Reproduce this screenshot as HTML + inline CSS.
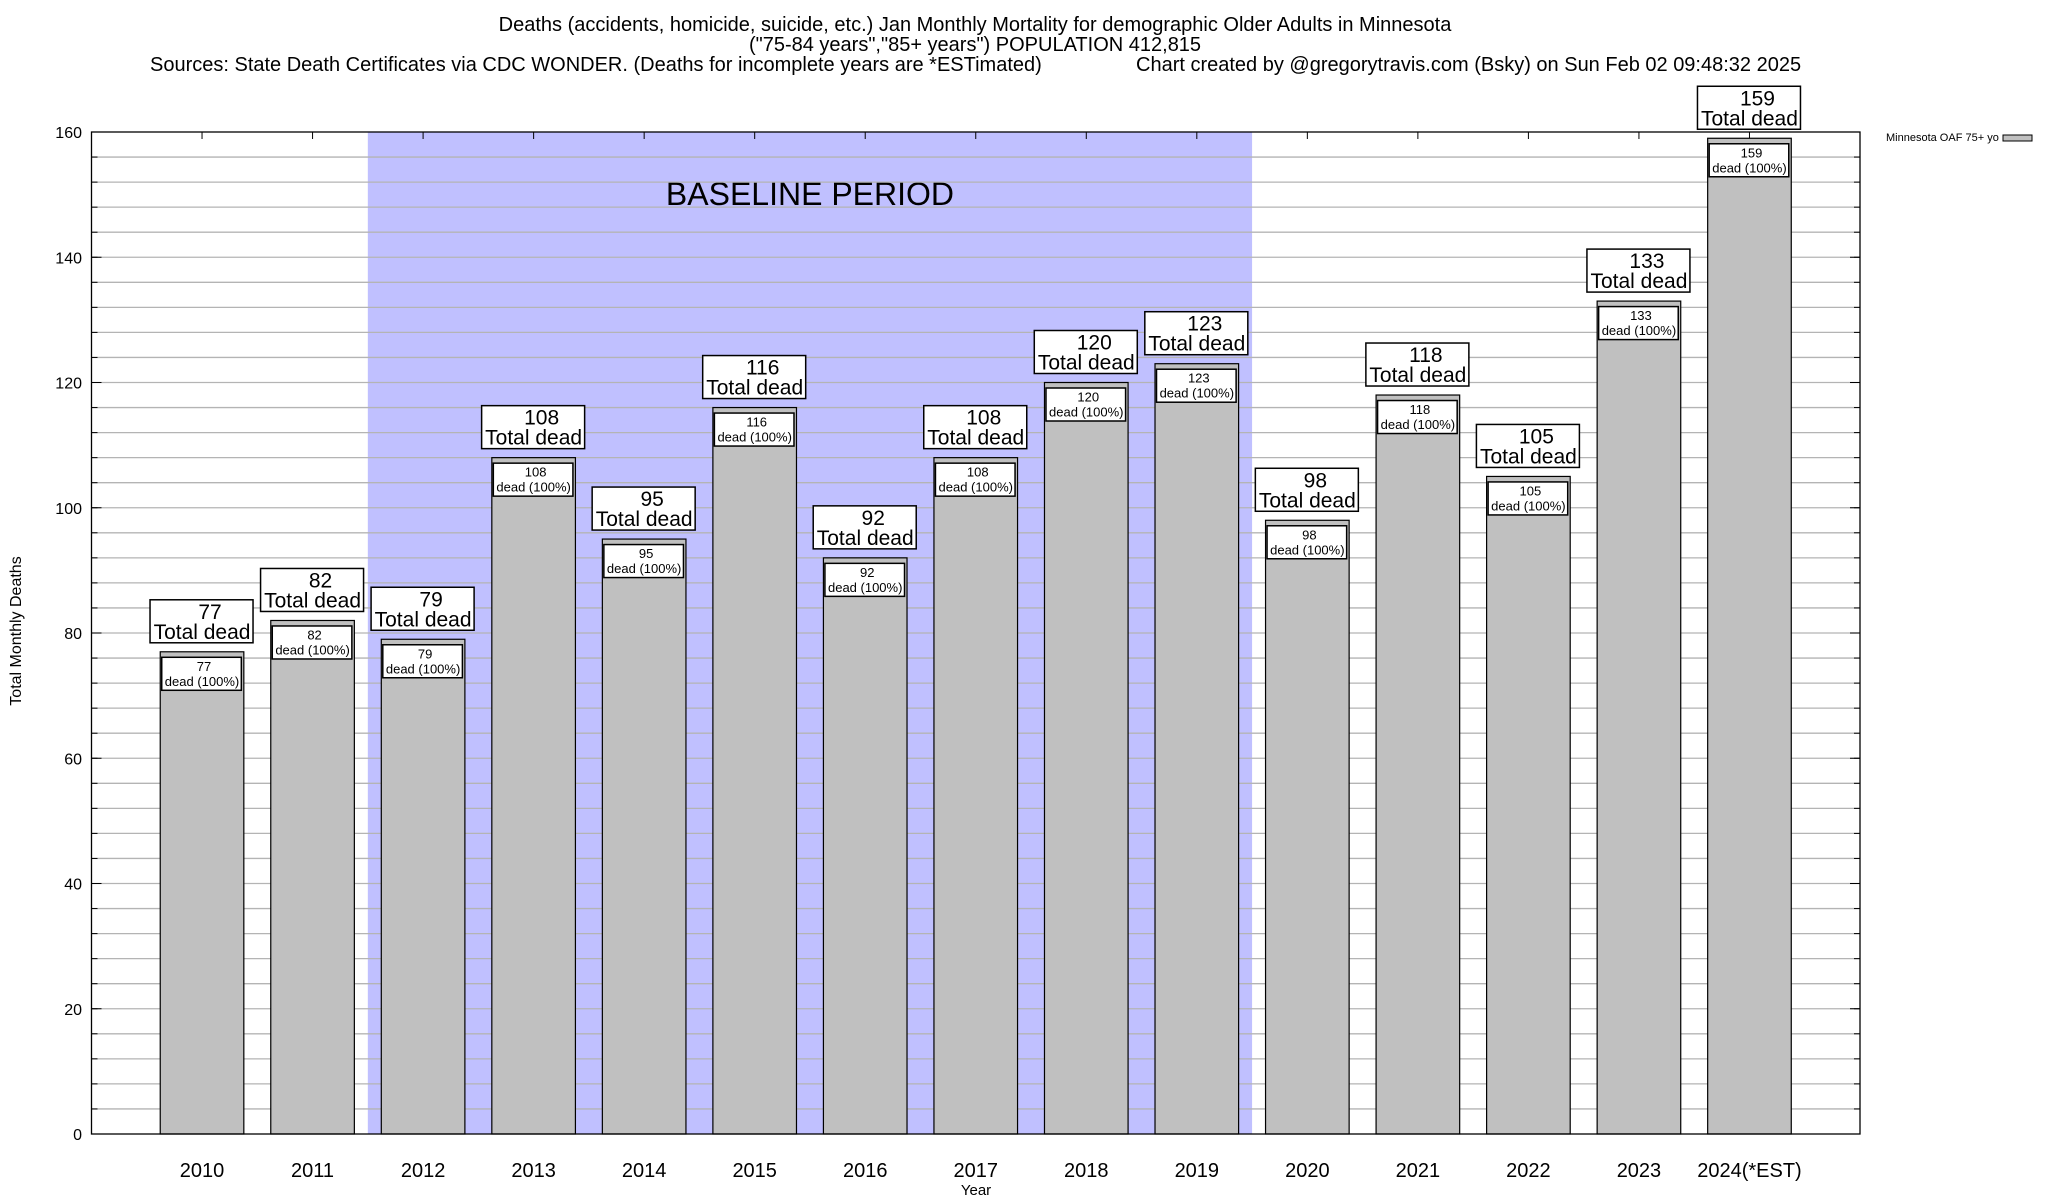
<!DOCTYPE html>
<html><head><meta charset="utf-8"><style>
html,body{margin:0;padding:0;background:#fff;}
svg{display:block;font-family:"Liberation Sans",Arial,sans-serif;}
</style></head><body>
<svg id="c" width="2048" height="1200" viewBox="0 0 2048 1200" xmlns="http://www.w3.org/2000/svg">
<g font-size="20" fill="#000">
<text x="975" y="31" text-anchor="middle">Deaths (accidents, homicide, suicide, etc.) Jan Monthly Mortality for demographic Older Adults in Minnesota</text>
<text x="975" y="51" text-anchor="middle">("75-84 years","85+ years") POPULATION 412,815</text>
<text x="150" y="71">Sources: State Death Certificates via CDC WONDER. (Deaths for incomplete years are *ESTimated)</text>
<text x="1136" y="71">Chart created by @gregorytravis.com (Bsky) on Sun Feb 02 09:48:32 2025</text>
</g>
<g id="plot"></g>
<text x="0" y="0" font-size="16" text-anchor="middle" transform="translate(21,631) rotate(-90)">Total Monthly Deaths</text>
<text x="976" y="1195" font-size="15" text-anchor="middle">Year</text>
<g>
<text x="1886" y="141" font-size="11">Minnesota OAF 75+ yo</text>
<rect x="2003" y="135" width="29" height="6" fill="#c0c0c0" stroke="#000" stroke-width="1"/>
</g>
</svg>
<script>
const categories = ["2010","2011","2012","2013","2014","2015","2016","2017","2018","2019","2020","2021","2022","2023","2024(*EST)"];
const deaths = [77,82,79,108,95,116,92,108,120,123,98,118,105,133,159];
const yTicks = [0,20,40,60,80,100,120,140,160];
const baselineRange = [2, 9]; // category indices of baseline period

const L=91.5, R=1860, T=132, B=1134;
const yMax=160;
const ns="http://www.w3.org/2000/svg";
const step=(R-L)/(categories.length+1);
function xPos(i){return L+step*(i+1);}
function yPos(v){return B-(v/yMax)*(B-T);}
const plot=document.getElementById('plot');
function mk(tag,attrs,parent){const e=document.createElementNS(ns,tag);for(const k in attrs)e.setAttribute(k,attrs[k]);(parent||plot).appendChild(e);return e;}

const sh=mk('rect',{x:xPos(baselineRange[0])-step/2,y:T,width:step*(baselineRange[1]-baselineRange[0]+1),height:B-T,fill:'#c0c0ff'});


const bt=mk('text',{x:(xPos(baselineRange[0])-step/2+xPos(baselineRange[1])+step/2)/2,y:205,'font-size':32,'text-anchor':'middle'});
bt.textContent='BASELINE PERIOD';



for(let v=4;v<yMax;v+=4){
  const g=mk('line',{x1:L,x2:R,y1:yPos(v),y2:yPos(v),stroke:'#b4b4b4','stroke-width':1.3});
  
  
  mk('line',{x1:L,x2:L+6,y1:yPos(v),y2:yPos(v),stroke:'#000','stroke-width':1});
  mk('line',{x1:R-6,x2:R,y1:yPos(v),y2:yPos(v),stroke:'#000','stroke-width':1});
}
yTicks.forEach(v=>{
  const t=mk('text',{x:82,y:yPos(v)+6,'font-size':16,'text-anchor':'end'});
  t.textContent=v;
  
  
  mk('line',{x1:L,x2:L+10,y1:yPos(v),y2:yPos(v),stroke:'#000','stroke-width':1});
  mk('line',{x1:R-10,x2:R,y1:yPos(v),y2:yPos(v),stroke:'#000','stroke-width':1});
});

const bw=83.6;
categories.forEach((c,i)=>{
  const cx=xPos(i), v=deaths[i], yt=yPos(v);
  mk('line',{x1:cx,x2:cx,y1:T,y2:T+7,stroke:'#000','stroke-width':1});
  const bar=mk('rect',{x:cx-bw/2,y:yt,width:bw,height:B-yt,fill:'#c0c0c0',stroke:'#000','stroke-width':1.2});
  
  
  const ib=mk('rect',{x:cx-bw/2+1.5,y:yt+5.5,width:bw-4,height:33,fill:'#fff',stroke:'#000','stroke-width':1.5});
  
  
  const t1=mk('text',{x:cx+2,y:yt+19,'font-size':13,'text-anchor':'middle'});t1.textContent=v;
  
  
  const t2=mk('text',{x:cx,y:yt+34,'font-size':13,'text-anchor':'middle'});t2.textContent='dead (100%)';
  
  
  const bx=mk('rect',{x:cx-52,y:yt-52,width:103,height:43,fill:'#fff',stroke:'#000','stroke-width':1.5});
  
  
  const t3=mk('text',{x:cx+8,y:yt-33,'font-size':21,'text-anchor':'middle'});t3.textContent=v;
  
  
  const t4=mk('text',{x:cx,y:yt-13,'font-size':21,'text-anchor':'middle'});t4.textContent='Total dead';
  
  
  const xl=mk('text',{x:cx,y:1177,'font-size':20,'text-anchor':'middle'});xl.textContent=c;
  
  
});
const fr=mk('rect',{x:L,y:T,width:R-L,height:B-T,fill:'none',stroke:'#000','stroke-width':1.3});


</script>
</body></html>
